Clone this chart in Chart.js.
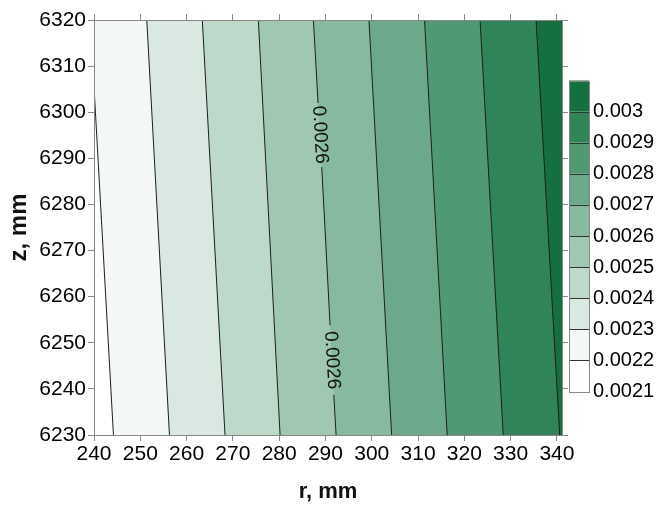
<!DOCTYPE html>
<html>
<head>
<meta charset="utf-8">
<script src="https://cdn.jsdelivr.net/npm/chart.js@4/dist/chart.umd.min.js"></script>
<style>
  html, body { margin: 0; padding: 0; background: #fff; }
  #wrap { width: 662px; height: 505px; }
</style>
</head>
<body>
<div id="wrap"><canvas id="myChart" width="662" height="505"></canvas></div>
<script>
// axes
const rTicks = [240, 250, 260, 270, 280, 290, 300, 310, 320, 330, 340];
const zTicks = [6230, 6240, 6250, 6260, 6270, 6280, 6290, 6300, 6310, 6320];
const rMin = 240, rMax = 341.1;
const zMin = 6230, zMax = 6320;

// contour lines: where each one meets the bottom and the top (or left) edge
const levels = [0.0022, 0.0023, 0.0024, 0.0025, 0.0026, 0.0027, 0.0028, 0.0029, 0.003];
const lineBottomR = [244.2, 256.3, 268.3, 280.2, 292.3, 304.3, 316.3, 328.4, 340.6];
const lineTopR = [240.0, 251.4, 263.4, 275.5, 287.4, 299.4, 311.4, 323.4, 335.5];
const lineTopZ = [6305.5, 6320, 6320, 6320, 6320, 6320, 6320, 6320, 6320];

// the 0.0026 line is broken for its two labels
const labelLevel = 0.0026;
const labelR = [291.4, 288.8];
const labelZ = [6246.2, 6295.1];
const gapR = [[291.8, 291.0], [289.2, 288.4]];
const gapZ = [[6238.7, 6253.8], [6288.1, 6302.0]];

// colour bar, bottom to top
const cbTicks = [0.0021, 0.0022, 0.0023, 0.0024, 0.0025, 0.0026, 0.0027, 0.0028, 0.0029, 0.003];
const bandColors = ['#ffffff', '#f3f7f5', '#d9e8e0', '#bdd9ca', '#a0c7b2',
                    '#87b99e', '#6ca98a', '#509a73', '#2f8557', '#14703f'];

const FONT = '"Liberation Sans", Arial, sans-serif';

function linePoints(i) {
  let pts = [{x: lineBottomR[i], y: zMin}];
  if (levels[i] === labelLevel) {
    for (let k = 0; k < gapR.length; k++) {
      pts.push({x: gapR[k][0], y: gapZ[k][0]});
      pts.push({x: null, y: null});
      pts.push({x: gapR[k][1], y: gapZ[k][1]});
    }
  }
  pts.push({x: lineTopR[i], y: lineTopZ[i]});
  return pts;
}

let datasets = [];
// contour lines on top
for (let i = 0; i < levels.length; i++) {
  datasets.push({
    data: linePoints(i),
    showLine: true,
    borderColor: '#1e1e1e',
    borderWidth: 1,
    pointRadius: 0,
    fill: false
  });
}
// area left of each line, painted from the right one to the left one
for (let i = 0; i < levels.length; i++) {
  datasets.push({
    data: [{x: rMin, y: zMin}, {x: lineBottomR[i], y: zMin},
           {x: lineTopR[i], y: lineTopZ[i]}, {x: rMin, y: zMax}],
    showLine: true,
    borderWidth: 0,
    borderColor: 'transparent',
    backgroundColor: bandColors[i],
    pointRadius: 0,
    fill: 'shape'
  });
}
// highest band fills the rest
datasets.push({
  data: [{x: rMin, y: zMin}, {x: rMax, y: zMin}, {x: rMax, y: zMax}, {x: rMin, y: zMax}],
  showLine: true,
  borderWidth: 0,
  borderColor: 'transparent',
  backgroundColor: bandColors[bandColors.length - 1],
  pointRadius: 0,
  fill: 'shape'
});

const contourLabels = {
  id: 'contourLabels',
  afterDatasetsDraw(chart) {
    const {ctx} = chart;
    const x = chart.scales.x, y = chart.scales.y;
    const i = levels.indexOf(labelLevel);
    const ang = Math.atan2(y.getPixelForValue(zMin) - y.getPixelForValue(lineTopZ[i]),
                           x.getPixelForValue(lineBottomR[i]) - x.getPixelForValue(lineTopR[i]));
    ctx.save();
    ctx.font = '19px ' + FONT;
    ctx.fillStyle = '#111';
    ctx.textAlign = 'center';
    ctx.textBaseline = 'middle';
    for (let k = 0; k < labelR.length; k++) {
      ctx.save();
      ctx.translate(x.getPixelForValue(labelR[k]), y.getPixelForValue(labelZ[k]));
      ctx.rotate(ang);
      ctx.fillText(String(labelLevel), 0, 0);
      ctx.restore();
    }
    ctx.restore();
  }
};

const colorBar = {
  id: 'colorBar',
  afterDraw(chart) {
    const {ctx} = chart;
    const left = 569, w = 20, top = 80.5, bottom = 391.5;
    const n = bandColors.length;
    const h = (bottom - top) / n;
    ctx.save();
    for (let k = 0; k < n; k++) {
      ctx.fillStyle = bandColors[k];
      ctx.fillRect(left, bottom - (k + 1) * h, w, h);
    }
    ctx.strokeStyle = '#333';
    ctx.lineWidth = 1;
    for (let k = 1; k < n; k++) {
      const yy = Math.round(bottom - k * h) + 0.5;
      ctx.beginPath();
      ctx.moveTo(left, yy);
      ctx.lineTo(left + w, yy);
      ctx.stroke();
    }
    ctx.strokeStyle = '#888';
    ctx.strokeRect(left + 0.5, Math.round(top) + 0.5, w, Math.round(bottom - top));
    ctx.fillStyle = '#000';
    ctx.font = '20px ' + FONT;
    ctx.textAlign = 'left';
    ctx.textBaseline = 'middle';
    for (let k = 0; k < cbTicks.length; k++) {
      ctx.fillText(String(cbTicks[k]), left + w + 4, bottom - k * h);
    }
    ctx.restore();
  }
};

const gridOpts = {drawOnChartArea: false, tickLength: 6, color: '#888'};
const borderOpts = {color: '#888', z: 1};
const tickFont = {family: FONT, size: 21};
const plain = v => String(v);

let ctx = document.getElementById('myChart').getContext('2d');
let myChart = new Chart(ctx, {
  type: 'scatter',
  data: {datasets: datasets},
  options: {
    responsive: false,
    animation: false,
    devicePixelRatio: 1,
    layout: {padding: {left: 0, top: 14, right: 94, bottom: 0}},
    plugins: {legend: {display: false}, tooltip: {enabled: false}},
    scales: {
      x: {
        type: 'linear', position: 'bottom', min: rMin, max: rMax,
        afterBuildTicks: s => { s.ticks = rTicks.map(v => ({value: v})); },
        afterFit: s => { s.height = 70; },
        grid: gridOpts, border: borderOpts,
        ticks: {font: tickFont, color: '#000', padding: 1, maxRotation: 0, autoSkip: false, callback: plain},
        title: {display: true, text: 'r, mm', font: {family: FONT, size: 22, weight: 'bold'},
                color: '#111', padding: {top: 0, bottom: 0}}
      },
      y: {
        type: 'linear', position: 'left', min: zMin, max: zMax,
        afterBuildTicks: s => { s.ticks = zTicks.map(v => ({value: v})); },
        afterFit: s => { s.width = 94; },
        grid: gridOpts, border: borderOpts,
        ticks: {font: tickFont, color: '#000', padding: 2, autoSkip: false, callback: plain},
        title: {display: true, text: 'z, mm', font: {family: FONT, size: 24, weight: 'bold'},
                color: '#111', padding: {top: 5, bottom: 0}}
      },
      x2: {
        type: 'linear', axis: 'x', position: 'top', min: rMin, max: rMax,
        afterBuildTicks: s => { s.ticks = rTicks.map(v => ({value: v})); },
        afterFit: s => { s.height = 6; },
        grid: gridOpts, border: borderOpts,
        ticks: {display: false}
      },
      y2: {
        type: 'linear', axis: 'y', position: 'right', min: zMin, max: zMax,
        afterBuildTicks: s => { s.ticks = zTicks.map(v => ({value: v})); },
        afterFit: s => { s.width = 6; },
        grid: gridOpts, border: borderOpts,
        ticks: {display: false}
      }
    }
  },
  plugins: [contourLabels, colorBar]
});
</script>
</body>
</html>
